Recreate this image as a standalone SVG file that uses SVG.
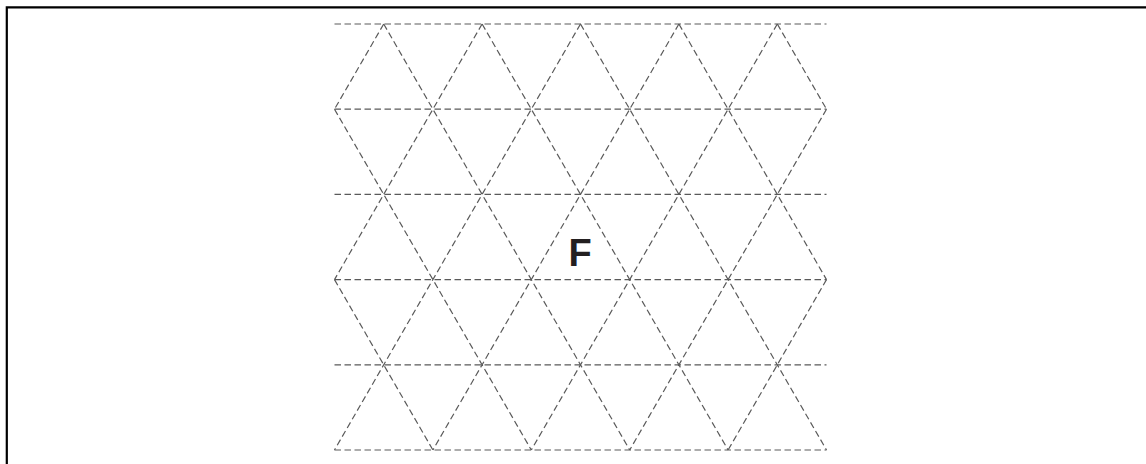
<svg xmlns="http://www.w3.org/2000/svg" width="1146" height="464" viewBox="0 0 1146 464">
<style>
.lat{stroke:#5a5a5a;stroke-width:1.2;stroke-dasharray:6.5 3.5;fill:none}
.frame{stroke:#000;stroke-width:2.2;fill:none}
.lbl{font-family:"Liberation Sans",Arial,sans-serif;font-weight:bold;font-size:38px;fill:#231f20}
</style>
<rect width="1146" height="464" fill="#fff"/>
<path class="frame" d="M6.8,464 V7.4 H1146"/>
<g id="lattice" class="lat">
<line x1="334.5" y1="24" x2="826.5" y2="24"/>
<line x1="334.5" y1="109.2" x2="826.5" y2="109.2"/>
<line x1="334.5" y1="194.4" x2="826.5" y2="194.4"/>
<line x1="334.5" y1="279.6" x2="826.5" y2="279.6"/>
<line x1="334.5" y1="364.8" x2="826.5" y2="364.8"/>
<line x1="334.5" y1="450" x2="826.5" y2="450"/>
<line x1="383.7" y1="24" x2="629.7" y2="450"/>
<line x1="482.1" y1="24" x2="728.1" y2="450"/>
<line x1="580.5" y1="24" x2="826.5" y2="450"/>
<line x1="678.9" y1="24" x2="826.5" y2="279.6"/>
<line x1="777.3" y1="24" x2="826.5" y2="109.2"/>
<line x1="334.5" y1="109.2" x2="531.3" y2="450"/>
<line x1="334.5" y1="279.6" x2="432.9" y2="450"/>
<line x1="383.7" y1="24" x2="334.5" y2="109.2"/>
<line x1="482.1" y1="24" x2="334.5" y2="279.6"/>
<line x1="580.5" y1="24" x2="334.5" y2="450"/>
<line x1="678.9" y1="24" x2="432.9" y2="450"/>
<line x1="777.3" y1="24" x2="531.3" y2="450"/>
<line x1="826.5" y1="109.2" x2="629.7" y2="450"/>
<line x1="826.5" y1="279.6" x2="728.1" y2="450"/>
</g>
<g id="label-F">
<text class="lbl" x="580" y="265.5" text-anchor="middle">F</text>
</g>
</svg>
